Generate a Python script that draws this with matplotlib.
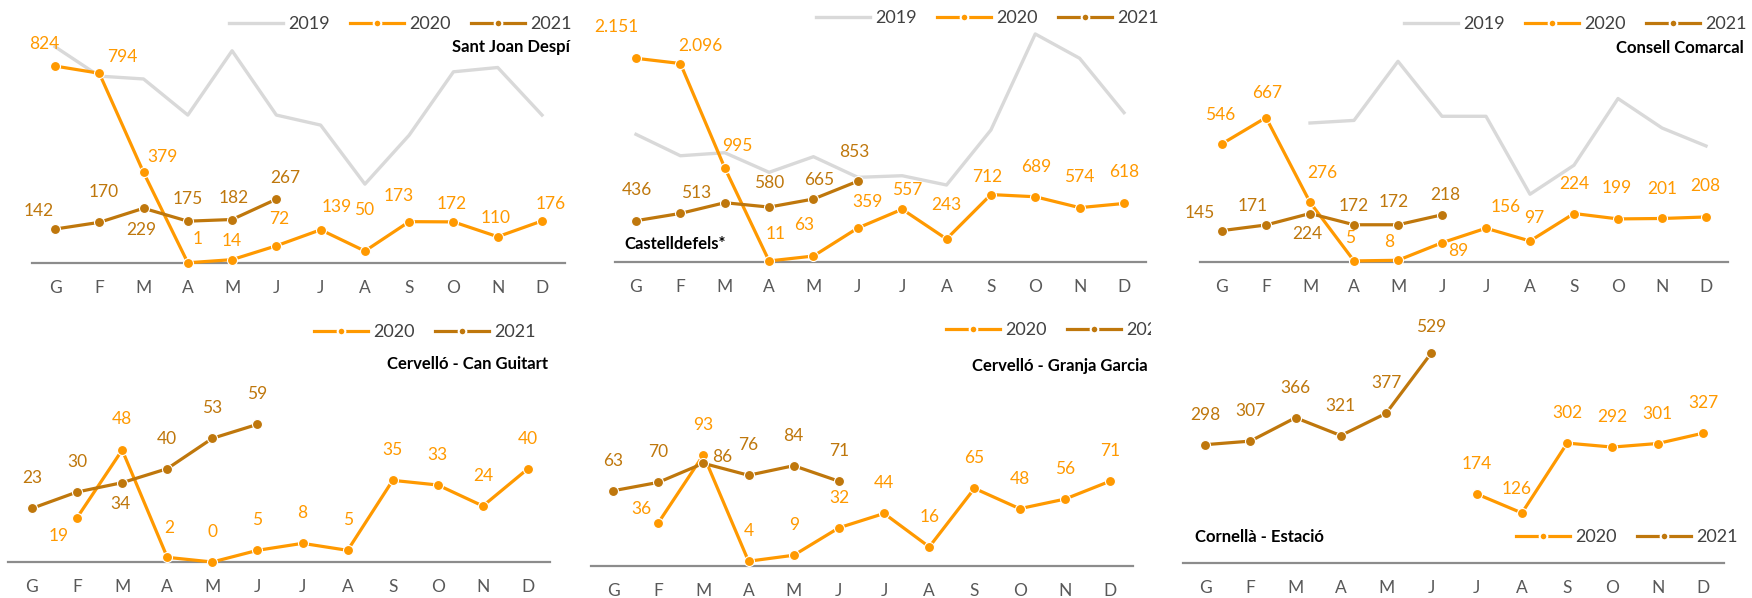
import numpy as np
import matplotlib
matplotlib.use('Agg')
import matplotlib.pyplot as plt
from matplotlib.lines import Line2D
from matplotlib.transforms import Bbox

plt.rcParams['font.family'] = ['Lato', 'DejaVu Sans']

W, H = 1752, 598
months = ['G', 'F', 'M', 'A', 'M', 'J', 'J', 'A', 'S', 'O', 'N', 'D']
nan = np.nan

# --- dades ---
sjd_2019 = [905, 782, 770, 619, 888, 619, 577, 330, 535, 800, 818, 619]
sjd_2020 = [824, 794, 379, 1, 14, 72, 139, 50, 173, 172, 110, 176]
sjd_2021 = [142, 170, 229, 175, 182, 267]

cas_2019 = [1348, 1122, 1154, 947, 1112, 894, 911, 813, 1394, 2408, 2151, 1577]
cas_2020 = [2151, 2096, 995, 11, 63, 359, 557, 243, 712, 689, 574, 618]
cas_2021 = [436, 513, 626, 580, 665, 853]

ccb_2019 = [nan, nan, 642, 654, 927, 673, 673, 313, 447, 755, 619, 536]
ccb_2020 = [546, 667, 276, 5, 8, 89, 156, 97, 224, 199, 201, 208]
ccb_2021 = [145, 171, 224, 172, 172, 218]

cgu_2020 = [nan, 19, 48, 2, 0, 5, 8, 5, 35, 33, 24, 40]
cgu_2021 = [23, 30, 34, 40, 53, 59]

cgg_2020 = [nan, 36, 93, 4, 9, 32, 44, 16, 65, 48, 56, 71]
cgg_2021 = [63, 70, 86, 76, 84, 71]

cor_2020 = [nan, nan, nan, nan, nan, nan, 174, 126, 302, 292, 301, 327]
cor_2021 = [298, 307, 366, 321, 377, 529]

# --- estil ---
C19 = '#D9D9D9'
C20 = '#FF9900'
C21 = '#BF770C'
AXC = '#8C8C8C'

# offsets de les etiquetes (px, dx dreta, dy avall); None = sense etiqueta
D = (0, -30)
off = {
    'sjd20': [(-11, -22), (23, -16), (19, -15), (10, -24), (0, -19), (3, -27),
              (16, -23), (-1, -41), (-10, -26), (-2, -18), (-2, -19), (9, -17)],
    'sjd21': [(-16, -18), (4, -30), (-2, 22), (0, -22), (2, -22), (9, -21)],
    'cas20': [(-20, -31), (20, -18), (13, -22), (7, -27), (-9, -31), (10, -26),
              (5, -19), (0, -34), (-4, -18), (1, -30), (0, -31), (0, -31)],
    'cas21': [(1, -31), (16, -20), None, (0, -24), (6, -19), (-4, -29)],
    'ccb20': [(-2, -29), (1, -25), (12, -29), (-4, -23), (-9, -18), (16, 8),
              (20, -21), (4, -23), (0, -30), (-1, -31), (0, -29), (-1, -31)],
    'ccb21': [(-22, -18), (-13, -19), (-3, 20), (0, -19), (-4, -23), (3, -20)],
    'cgu20': [None, (-18, 18), (0, -31), (2, -29), D, D, D, D, D, D, D, D],
    'cgu21': [D, D, (-2, 21), D, D, D],
    'cgg20': [None, (-17, -14), D, D, D, D, D, D, D, D, D, D],
    'cgg21': [D, D, (19, -6), D, D, D],
    'cor20': [None] * 6 + [D, (-5, -24), D, D, D, D],
    'cor21': [D, D, D, D, D, (0, -26)],
}

panels = [
    dict(title='Sant Joan Despí', s19=sjd_2019, s20=sjd_2020, s21=sjd_2021,
         k='sjd', x0=32, x1=565, g=55, d=542, base=263, scale=0.239,
         leg=(572, 24), tit=(570, 47, 'right')),
    dict(title='Castelldefels*', s19=cas_2019, s20=cas_2020, s21=cas_2021,
         k='cas', x0=615, x1=1146, g=636, d=1124, base=262, scale=0.0947,
         leg=(1159, 18), tit=(624, 244, 'left')),
    dict(title='Consell Comarcal', s19=ccb_2019, s20=ccb_2020, s21=ccb_2021,
         k='ccb', x0=1200, x1=1728, g=1222, d=1706, base=262, scale=0.2165,
         leg=(1747, 24), tit=(1744, 48, 'right')),
    dict(title='Cervelló - Can Guitart', s19=None, s20=cgu_2020, s21=cgu_2021,
         k='cgu', x0=8, x1=550, g=32, d=528, base=562, scale=2.333,
         leg=(536, 332), tit=(548, 364, 'right')),
    dict(title='Cervelló - Granja Garcia', s19=None, s20=cgg_2020, s21=cgg_2021,
         k='cgg', x0=591, x1=1133, g=613, d=1110, base=566, scale=1.194,
         leg=(1168, 330), tit=(1148, 366, 'right'), clip=1151),
    dict(title='Cornellà - Estació', s19=None, s20=cor_2020, s21=cor_2021,
         k='cor', x0=1183, x1=1724, g=1205, d=1703, base=563, scale=0.397,
         leg=(1738, 537), tit=(1195, 537, 'left')),
]


def fmt(v):
    return f'{int(v):,}'.replace(',', '.')


fig = plt.figure(figsize=(W / 100, H / 100), dpi=100)

for p in panels:
    top = p['base'] - 250
    ax = fig.add_axes([p['x0'] / W, 1 - p['base'] / H,
                       (p['x1'] - p['x0']) / W, (p['base'] - top) / H])
    sp = (p['d'] - p['g']) / 11
    ax.set_xlim(-(p['g'] - p['x0']) / sp, 11 + (p['x1'] - p['d']) / sp)
    ax.set_ylim(0, (p['base'] - top) / p['scale'])
    for s in ['top', 'left', 'right']:
        ax.spines[s].set_visible(False)
    ax.spines['bottom'].set_color(AXC)
    ax.spines['bottom'].set_linewidth(1.6)
    ax.spines['bottom'].set_zorder(1)
    ax.set_yticks([])
    ax.set_xticks(range(12))
    ax.set_xticklabels(months)
    ax.tick_params(axis='x', length=0, pad=12, labelsize=12.5, labelcolor='#595959')
    ax.patch.set_alpha(0)

    x = np.arange(12)
    if p['s19'] is not None:
        ax.plot(x, p['s19'], color=C19, lw=2.4, zorder=2, clip_on=False)
    y20 = np.array(p['s20'], dtype=float)
    y21 = np.array(p['s21'], dtype=float)
    ax.plot(x, y20, color=C20, lw=2.3, marker='o', ms=7.2, mec='white', mew=0.8,
            zorder=3, clip_on=False)
    ax.plot(x[:len(y21)], y21, color=C21, lw=2.3, marker='o', ms=7.2, mec='white',
            mew=0.8, zorder=4, clip_on=False)

    for key, ys, col in [(p['k'] + '20', y20, C20), (p['k'] + '21', y21, C21)]:
        for i, v in enumerate(ys):
            o = off[key][i]
            if o is None or np.isnan(v):
                continue
            ax.annotate(fmt(v), (i, v), xytext=(o[0], -o[1]),
                        textcoords='offset pixels', ha='center', va='center',
                        color=col, fontsize=12.5, zorder=6, annotation_clip=False)

    handles, names = [], []
    if p['s19'] is not None:
        handles.append(Line2D([], [], color=C19, lw=2.4))
        names.append('2019')
    handles.append(Line2D([], [], color=C20, lw=2.3, marker='o', ms=5.5, mec='white', mew=1.5))
    handles.append(Line2D([], [], color=C21, lw=2.3, marker='o', ms=5.5, mec='white', mew=1.5))
    names += ['2020', '2021']
    lx, ly = p['leg']
    leg = fig.legend(handles, names, loc='center right', ncol=len(names),
                     bbox_to_anchor=(lx / W, 1 - ly / H), frameon=False,
                     fontsize=13, handlelength=3.0, handletextpad=0.3,
                     columnspacing=1.1, borderpad=0, borderaxespad=0,
                     labelcolor='#404040')
    if 'clip' in p:
        for t in leg.get_texts():
            t.set_clip_box(Bbox.from_extents(0, 0, p['clip'], H))
            t.set_clip_on(True)

    tx, ty, ha = p['tit']
    fig.text(tx / W, 1 - ty / H, p['title'], ha=ha, va='center',
             fontsize=12, fontweight='bold', color='black')

fig.savefig('out.png', dpi=100)
